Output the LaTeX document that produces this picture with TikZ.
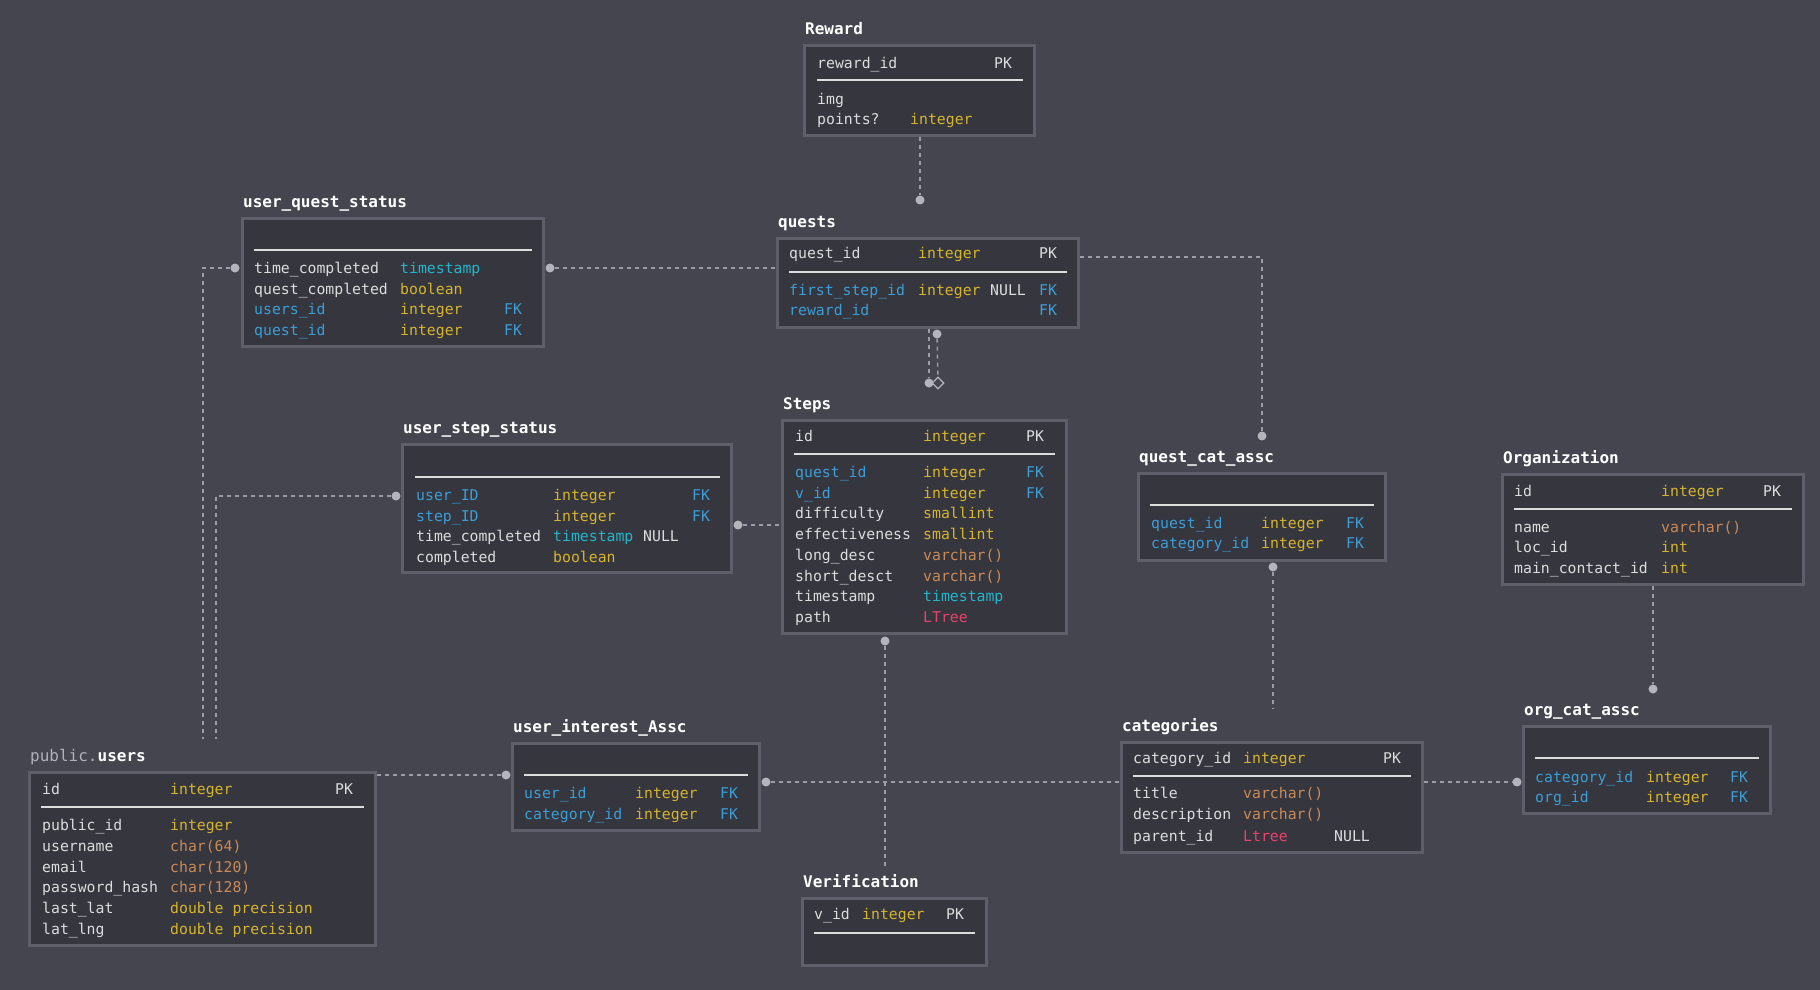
\documentclass[tikz,border=0pt]{standalone}
\usepackage{fontspec}
\setmonofont{DejaVu Sans Mono}
\usepackage{tikz}
\usetikzlibrary{shapes.geometric}

\definecolor{bgc}{HTML}{45454F}
\definecolor{boxc}{HTML}{36363F}
\definecolor{edgec}{HTML}{5F5F6A}
\definecolor{txtc}{HTML}{DCDCDE}
\definecolor{linec}{HTML}{9C9CA6}
\definecolor{dotc}{HTML}{B4B4BC}
\definecolor{keyblue}{HTML}{3A9FD8}
\definecolor{tyellow}{HTML}{D6B52C}
\definecolor{tcyan}{HTML}{22B6CC}
\definecolor{torange}{HTML}{C98A56}
\definecolor{tred}{HTML}{E8426C}
\definecolor{tgrey}{HTML}{B0B0B8}

\newcommand{\cbx}[2]{\makebox[#1pt][l]{#2}}
\newcommand{\tB}[1]{\textcolor{keyblue}{#1}}
\newcommand{\tY}[1]{\textcolor{tyellow}{#1}}
\newcommand{\tC}[1]{\textcolor{tcyan}{#1}}
\newcommand{\tO}[1]{\textcolor{torange}{#1}}
\newcommand{\tR}[1]{\textcolor{tred}{#1}}

\tikzset{
  tbl/.style={draw=edgec, fill=boxc, line width=3pt, anchor=north west, inner sep=0},
  ttl/.style={anchor=west, inner sep=0, text height=14pt, text depth=3pt, text=white,
    font=\ttfamily\bfseries\fontsize{16}{19}\selectfont},
  fld/.style={anchor=west, inner sep=0, text height=14pt, text depth=3pt, text=txtc,
    font=\ttfamily\fontsize{14.8}{18}\selectfont},
  divider/.style={draw=txtc, line width=1.5pt},
  link/.style={draw=linec, line width=1.5pt, dash pattern=on 4pt off 4pt},
  dot/.style={circle, fill=dotc, inner sep=0, minimum size=9pt},
}

\begin{document}
\begin{tikzpicture}[x=1pt, y=-1pt]
\fill[bgc] (0,0) rectangle (1820,990);

% Reward
\node[tbl, minimum width=230pt, minimum height=90pt] (reward) at (803,44) {};
\node[ttl] (reward-t) at (805,29) {Reward};
\node[fld] (reward-h) at (817,63) {\cbx{177}{reward\_id}PK};
\draw[divider] (817,80) -- (1023,80);
\foreach \rw [count=\i from 0] in {{img},{\cbx{93}{points?}\tY{integer}}}
  \node[fld] (reward-\i) at (817,99+19.5*\i) {\rw};

% user_quest_status
\node[tbl, minimum width=301pt, minimum height=128pt] (uqstatus) at (241,217) {};
\node[ttl] (uqstatus-t) at (243,202) {user\_quest\_status};
\draw[divider] (254,250) -- (532,250);
\foreach \rw [count=\i from 0] in {
  {\cbx{146}{time\_completed}\tC{timestamp}},
  {\cbx{146}{quest\_completed}\tY{boolean}},
  {\cbx{146}{\tB{users\_id}}\cbx{104}{\tY{integer}}\tB{FK}},
  {\cbx{146}{\tB{quest\_id}}\cbx{104}{\tY{integer}}\tB{FK}}}
  \node[fld] (uqstatus-\i) at (254,268+20.7*\i) {\rw};

% quests
\node[tbl, minimum width=301pt, minimum height=89pt] (quests) at (776,237) {};
\node[ttl] (quests-t) at (778,222) {quests};
\node[fld] (quests-h) at (789,253) {\cbx{129}{quest\_id}\cbx{121}{\tY{integer}}PK};
\draw[divider] (789,272) -- (1067,272);
\foreach \rw [count=\i from 0] in {
  {\cbx{129}{\tB{first\_step\_id}}\cbx{72}{\tY{integer}}\cbx{49}{NULL}\tB{FK}},
  {\cbx{250}{\tB{reward\_id}}\tB{FK}}}
  \node[fld] (quests-\i) at (789,290+20*\i) {\rw};

% user_step_status
\node[tbl, minimum width=329pt, minimum height=128pt] (usstatus) at (401,443) {};
\node[ttl] (usstatus-t) at (403,428) {user\_step\_status};
\draw[divider] (415,477) -- (720,477);
\foreach \rw [count=\i from 0] in {
  {\cbx{137}{\tB{user\_ID}}\cbx{139}{\tY{integer}}\tB{FK}},
  {\cbx{137}{\tB{step\_ID}}\cbx{139}{\tY{integer}}\tB{FK}},
  {\cbx{137}{time\_completed}\cbx{90}{\tC{timestamp}}NULL},
  {\cbx{137}{completed}\tY{boolean}}}
  \node[fld] (usstatus-\i) at (416,495+20.7*\i) {\rw};

% Steps
\node[tbl, minimum width=284pt, minimum height=213pt] (steps) at (781,419) {};
\node[ttl] (steps-t) at (783,404) {Steps};
\node[fld] (steps-h) at (795,436) {\cbx{128}{id}\cbx{103}{\tY{integer}}PK};
\draw[divider] (794,454) -- (1055,454);
\foreach \rw [count=\i from 0] in {
  {\cbx{128}{\tB{quest\_id}}\cbx{103}{\tY{integer}}\tB{FK}},
  {\cbx{128}{\tB{v\_id}}\cbx{103}{\tY{integer}}\tB{FK}},
  {\cbx{128}{difficulty}\tY{smallint}},
  {\cbx{128}{effectiveness}\tY{smallint}},
  {\cbx{128}{long\_desc}\tO{varchar()}},
  {\cbx{128}{short\_desct}\tO{varchar()}},
  {\cbx{128}{timestamp}\tC{timestamp}},
  {\cbx{128}{path}\tR{LTree}}}
  \node[fld] (steps-\i) at (795,472+20.7*\i) {\rw};

% quest_cat_assc
\node[tbl, minimum width=247pt, minimum height=87pt] (qcassc) at (1137,472) {};
\node[ttl] (qcassc-t) at (1139,457) {quest\_cat\_assc};
\draw[divider] (1150,505) -- (1374,505);
\foreach \rw [count=\i from 0] in {
  {\cbx{110}{\tB{quest\_id}}\cbx{85}{\tY{integer}}\tB{FK}},
  {\cbx{110}{\tB{category\_id}}\cbx{85}{\tY{integer}}\tB{FK}}}
  \node[fld] (qcassc-\i) at (1151,523+20*\i) {\rw};

% Organization
\node[tbl, minimum width=301pt, minimum height=110pt] (org) at (1501,473) {};
\node[ttl] (org-t) at (1503,458) {Organization};
\node[fld] (org-h) at (1514,491) {\cbx{147}{id}\cbx{102}{\tY{integer}}PK};
\draw[divider] (1514,509) -- (1792,509);
\foreach \rw [count=\i from 0] in {
  {\cbx{147}{name}\tO{varchar()}},
  {\cbx{147}{loc\_id}\tY{int}},
  {\cbx{147}{main\_contact\_id}\tY{int}}}
  \node[fld] (org-\i) at (1514,527+20.3*\i) {\rw};

% public.users
\node[tbl, minimum width=346pt, minimum height=173pt] (users) at (28,771) {};
\node[ttl] (users-t) at (30,756) {\textcolor{tgrey}{\mdseries public.}users};
\node[fld] (users-h) at (42,789) {\cbx{128}{id}\cbx{165}{\tY{integer}}PK};
\draw[divider] (41,807) -- (364,807);
\foreach \rw [count=\i from 0] in {
  {\cbx{128}{public\_id}\tY{integer}},
  {\cbx{128}{username}\tO{char(64)}},
  {\cbx{128}{email}\tO{char(120)}},
  {\cbx{128}{password\_hash}\tO{char(128)}},
  {\cbx{128}{last\_lat}\tY{double precision}},
  {\cbx{128}{lat\_lng}\tY{double precision}}}
  \node[fld] (users-\i) at (42,825+20.8*\i) {\rw};

% user_interest_Assc
\node[tbl, minimum width=247pt, minimum height=87pt] (uiassc) at (511,742) {};
\node[ttl] (uiassc-t) at (513,727) {user\_interest\_Assc};
\draw[divider] (524,775) -- (748,775);
\foreach \rw [count=\i from 0] in {
  {\cbx{111}{\tB{user\_id}}\cbx{85}{\tY{integer}}\tB{FK}},
  {\cbx{111}{\tB{category\_id}}\cbx{85}{\tY{integer}}\tB{FK}}}
  \node[fld] (uiassc-\i) at (524,793+21*\i) {\rw};

% categories
\node[tbl, minimum width=301pt, minimum height=110pt] (cats) at (1120,741) {};
\node[ttl] (cats-t) at (1122,726) {categories};
\node[fld] (cats-h) at (1133,758) {\cbx{110}{category\_id}\cbx{140}{\tY{integer}}PK};
\draw[divider] (1133,776) -- (1411,776);
\foreach \rw [count=\i from 0] in {
  {\cbx{110}{title}\tO{varchar()}},
  {\cbx{110}{description}\tO{varchar()}},
  {\cbx{110}{parent\_id}\cbx{91}{\tR{Ltree}}NULL}}
  \node[fld] (cats-\i) at (1133,793+21.3*\i) {\rw};

% org_cat_assc
\node[tbl, minimum width=247pt, minimum height=87pt] (ocassc) at (1522,725) {};
\node[ttl] (ocassc-t) at (1524,710) {org\_cat\_assc};
\draw[divider] (1535,758) -- (1759,758);
\foreach \rw [count=\i from 0] in {
  {\cbx{111}{\tB{category\_id}}\cbx{84}{\tY{integer}}\tB{FK}},
  {\cbx{111}{\tB{org\_id}}\cbx{84}{\tY{integer}}\tB{FK}}}
  \node[fld] (ocassc-\i) at (1535,777+20*\i) {\rw};

% Verification
\node[tbl, minimum width=184pt, minimum height=67pt] (verif) at (801,897) {};
\node[ttl] (verif-t) at (803,882) {Verification};
\node[fld] (verif-h) at (814,914) {\cbx{48}{v\_id}\cbx{84}{\tY{integer}}PK};
\draw[divider] (814,933) -- (975,933);

% relations
\node[dot] (rq) at (920,200) {};
\draw[link] (reward.south -| rq) -- (rq);

\node[dot] (uq) at (550,268) {};
\draw[link] (uq) -- (uq -| quests.west);

\node[dot] (qc) at (1262,436) {};
\draw[link] ([yshift=-20pt]quests.north east) -| (qc);

\node[dot] (qs1) at (929,383) {};
\draw[link] (quests.south -| qs1) -- (qs1);
\node[dot] (qs2) at (937,334) {};
\node[diamond, draw=dotc, fill=bgc, line width=1.2pt, inner sep=0, minimum size=12pt] (qs3) at (938,383) {};
\draw[link] (qs2) -- (qs3);

\node[dot] (ss) at (738,525) {};
\draw[link] (ss) -- (ss -| steps.west);

\node[dot] (uu1) at (235,268) {};
\coordinate (uu1e) at (203,739);
\draw[link] (uu1) -| (uu1e);
\node[dot] (uu2) at (396,496) {};
\coordinate (uu2e) at (216,739);
\draw[link] (uu2) -| (uu2e);

\node[dot] (ui) at (506,775) {};
\draw[link] (ui -| users.east) -- (ui);

\node[dot] (ic) at (766,782) {};
\draw[link] (ic) -- (ic -| cats.west);

\node[dot] (sv) at (885,641) {};
\coordinate (sve) at (885,866);
\draw[link] (sv) -- (sve);

\node[dot] (qcc) at (1273,567) {};
\coordinate (qcce) at (1273,708);
\draw[link] (qcc) -- (qcce);

\node[dot] (co) at (1517,782) {};
\draw[link] (co -| cats.east) -- (co);

\node[dot] (oo) at (1653,689) {};
\draw[link] (oo |- org.south) -- (oo);
\end{tikzpicture}
\end{document}
